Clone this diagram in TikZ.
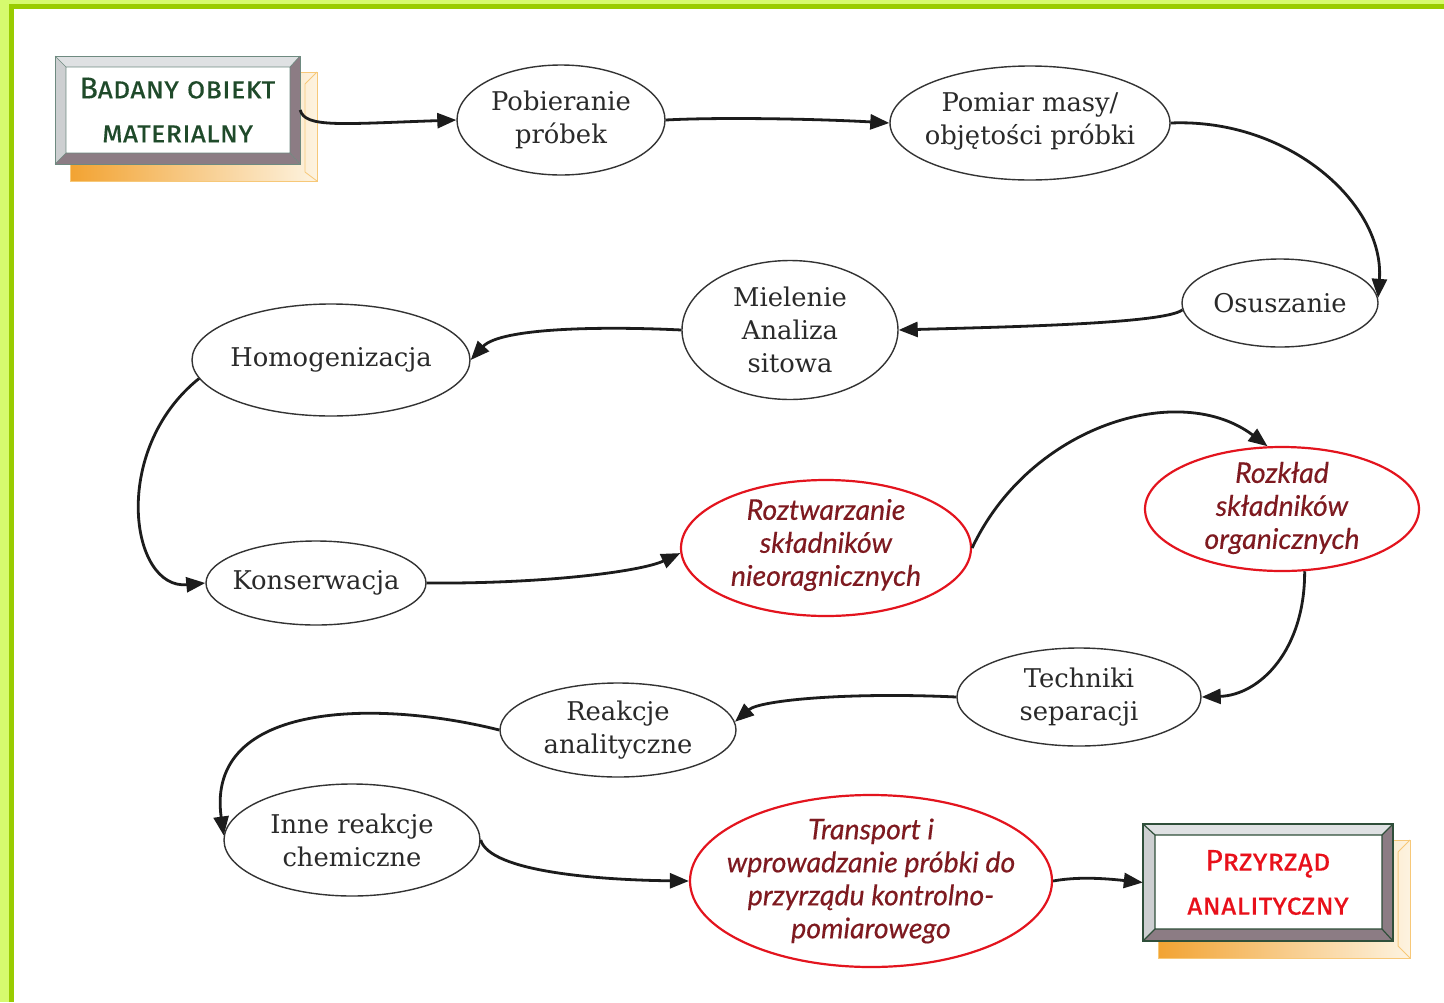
\documentclass[tikz,border=0pt]{standalone}
\usepackage{fontspec}
\setmainfont{DejaVu Serif}
\newfontfamily\redfont[FakeBold=0.3]{Lato}
\newfontfamily\capsfont[Letters=SmallCaps,FakeBold=0.3]{Fira Sans}
\usetikzlibrary{shapes.geometric,arrows.meta}

\definecolor{framepale}{HTML}{D6FA6E}
\definecolor{framegreen}{HTML}{99CC00}
\definecolor{ovalline}{HTML}{333333}
\definecolor{ovalred}{HTML}{E3141E}
\definecolor{textdark}{HTML}{2A2A2A}
\definecolor{redtext}{HTML}{7E1A20}
\definecolor{arrowc}{HTML}{1C1C1C}
\definecolor{bevellight}{HTML}{DFE1E3}
\definecolor{beveldark}{HTML}{8C7C84}
\definecolor{boxline}{HTML}{6E8A80}
\definecolor{boxlinedark}{HTML}{2F4F3A}
\definecolor{greentext}{HTML}{1F4A2A}
\definecolor{redcaps}{HTML}{E8101A}
\definecolor{shadeorange}{HTML}{F2A332}
\definecolor{shadepale}{HTML}{FDF3E0}
\definecolor{shadeline}{HTML}{F7C878}

\begin{document}
\begin{tikzpicture}[x=1pt,y=-1pt,
  oval/.style={ellipse, draw=ovalline, line width=1.4pt, fill=white, inner sep=0pt},
  redoval/.style={ellipse, draw=ovalred, line width=2.2pt, fill=white, inner sep=0pt},
  txt/.style={align=center, inner sep=0pt, text=textdark, font=\fontsize{25.8}{33}\selectfont},
  redtxt/.style={align=center, inner sep=0pt, text=redtext, font=\redfont\itshape\fontsize{28.5}{33}\selectfont},
  capstxt/.style={align=center, inner sep=0pt, font=\capsfont\fontsize{30}{44}\selectfont},
  boxnode/.style={rectangle, inner sep=0pt, minimum width=#1},
  flow/.style={draw=arrowc, line width=2.8pt, -{Triangle[length=19pt,width=15pt]}}
]
\useasboundingbox (0,0) rectangle (1444,1002);

% page frame
\fill[white] (0,0) rectangle (1444,1002);
\fill[framepale] (0,0) rectangle (1444,4);
\fill[framepale] (0,0) rectangle (9,1002);
\fill[framegreen] (9,4) rectangle (1444,9);
\fill[framegreen] (9,4) rectangle (13.5,1002);

% ---- start box: shadow and bevelled frame
\shade[left color=shadeorange, right color=shadepale] (70,72) rectangle (317,181);
\draw[shadeline, line width=0.8pt] (70,72) rectangle (317,181);
\draw[shadeline, line width=0.8pt] (305,84) -- (305,172) (305,84) -- (317,72) (305,172) -- (317,181);
\fill[bevellight] (55,56) -- (300,56) -- (290,67) -- (66,67) -- cycle;
\fill[bevellight!92!black] (55,56) -- (66,67) -- (66,153) -- (55,164) -- cycle;
\fill[beveldark] (300,56) -- (300,164) -- (290,153) -- (290,67) -- cycle;
\fill[beveldark] (55,164) -- (300,164) -- (290,153) -- (66,153) -- cycle;
\fill[white] (66,67) rectangle (290,153);
\draw[boxline, line width=0.8pt] (55,56) rectangle (300,164);
\draw[boxline, line width=0.6pt] (66,67) rectangle (290,153)
  (55,56) -- (66,67) (300,56) -- (290,67) (55,164) -- (66,153) (300,164) -- (290,153);
\node[boxnode=245pt, minimum height=108pt, capstxt, text=greentext] (obj) at (177.5,110) {Badany obiekt\\materialny};

% ---- end box: shadow and bevelled frame
\shade[left color=shadeorange, right color=shadepale] (1158,840) rectangle (1410,958);
\draw[shadeline, line width=1pt] (1158,840) rectangle (1410,958);
\draw[shadeline, line width=1pt] (1398,852) -- (1398,946) (1398,852) -- (1410,840) (1398,946) -- (1410,958);
\fill[bevellight] (1143,824) -- (1393,824) -- (1382,835) -- (1155,835) -- cycle;
\fill[bevellight!92!black] (1143,824) -- (1155,835) -- (1155,929) -- (1143,941) -- cycle;
\fill[beveldark] (1393,824) -- (1393,941) -- (1382,929) -- (1382,835) -- cycle;
\fill[beveldark] (1143,941) -- (1393,941) -- (1382,929) -- (1155,929) -- cycle;
\fill[white] (1155,835) rectangle (1382,929);
\draw[boxlinedark, line width=2pt] (1143,824) rectangle (1393,941);
\draw[boxlinedark, line width=1.2pt] (1155,835) rectangle (1382,929)
  (1143,824) -- (1155,835) (1393,824) -- (1382,835) (1143,941) -- (1155,929) (1393,941) -- (1382,929);
\node[boxnode=250pt, minimum height=117pt, capstxt, text=redcaps] (prz) at (1268,882.5) {Przyrząd\\analityczny};

% ---- process steps
\node[oval, minimum width=208pt, minimum height=110pt] (pob) at (561,120) {};
\node[txt] (pobt) at (pob) {Pobieranie\\próbek};
\node[oval, minimum width=280pt, minimum height=114pt] (pom) at (1030,123) {};
\node[txt] (pomt) at (1030,121) {Pomiar masy/\\objętości próbki};
\node[oval, minimum width=196pt, minimum height=88pt] (osu) at (1280,303) {};
\node[txt] (osut) at (osu) {Osuszanie};
\node[oval, minimum width=216pt, minimum height=139pt] (mie) at (790,330) {};
\node[txt] (miet) at (mie) {Mielenie\\Analiza\\sitowa};
\node[oval, minimum width=278pt, minimum height=112pt] (hom) at (331,360) {};
\node[txt] (homt) at (hom) {Homogenizacja};
\node[oval, minimum width=220pt, minimum height=84pt] (kon) at (316,583) {};
\node[txt] (kont) at (kon) {Konserwacja};
\node[redoval, minimum width=290pt, minimum height=136pt] (roz) at (826,548) {};
\node[redtxt] (rozt) at (826,545) {Roztwarzanie\\składników\\nieoragnicznych};
\node[redoval, minimum width=274pt, minimum height=124pt] (rkl) at (1282,509) {};
\node[redtxt] (rklt) at (1282,508) {Rozkład\\składników\\organicznych};
\node[oval, minimum width=244pt, minimum height=98pt] (tec) at (1079,697) {};
\node[txt] (tect) at (tec) {Techniki\\separacji};
\node[oval, minimum width=236pt, minimum height=94pt] (rea) at (618,730) {};
\node[txt] (reat) at (rea) {Reakcje\\analityczne};
\node[oval, minimum width=256pt, minimum height=112pt] (inn) at (352,840) {};
\node[txt] (innt) at (inn) {Inne reakcje\\chemiczne};
\node[redoval, minimum width=362pt, minimum height=172pt] (tra) at (871,881) {};
\node[redtxt] (trat) at (tra) {Transport i\\wprowadzanie próbki do\\przyrządu kontrolno-\\pomiarowego};

% ---- connectors
\draw[flow] (obj.east) .. controls (305,128) and (340,124) .. (pob.west);
\draw[flow] (pob.east) .. controls (720,117) and (820,119) .. (pom.west);
\draw[flow] (pom.east) .. controls (1290,118) and (1385,205) .. (osu.3);
\draw[flow] (osu.184) .. controls (1165,324) and (1000,327) .. (mie.east);
\draw[flow] (mie.west) .. controls (600,326) and (500,328) .. (hom.east);
\draw[flow] (hom.188) .. controls (110,450) and (130,590) .. (kon.west);
\draw[flow] (kon.east) .. controls (540,584) and (640,572) .. (roz.182);
\draw[flow] (roz.east) .. controls (1030,425) and (1180,380) .. (rkl.103);
\draw[flow] (rkl.290) .. controls (1305,650) and (1260,695) .. (tec.east);
\draw[flow] (tec.west) .. controls (850,692) and (760,700) .. (rea.4);
\draw[flow] (rea.west) .. controls (380,700) and (205,700) .. (inn.178);
\draw[flow] (inn.east) .. controls (490,872) and (600,880) .. (tra.west);
\draw[flow] (tra.east) .. controls (1080,876) and (1110,879) .. (prz.west);
\end{tikzpicture}
\end{document}
